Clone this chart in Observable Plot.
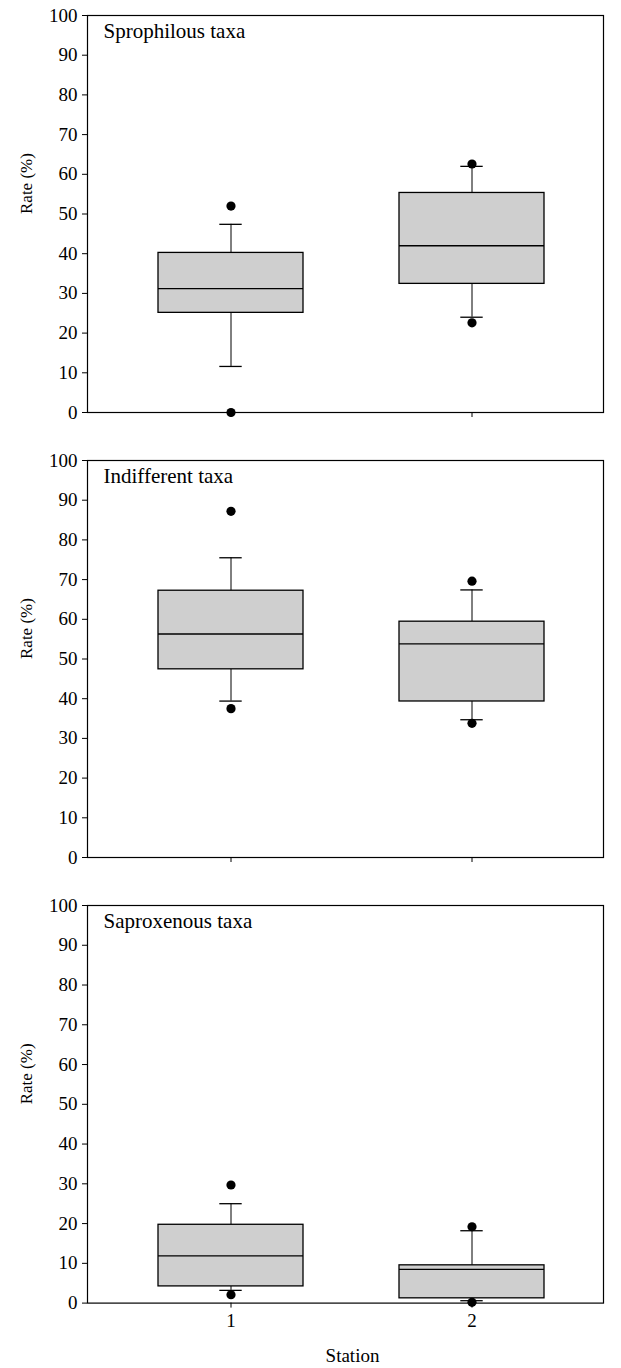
<!DOCTYPE html>
<html><head><meta charset="utf-8">
<script src="https://cdn.jsdelivr.net/npm/d3@7"></script>
<script src="https://cdn.jsdelivr.net/npm/@observablehq/plot@0.6"></script>
<style>
html,body{margin:0;padding:0;background:#fff;}
#chart svg{display:block;}
</style></head><body><div id="chart"></div>
<script>
const stations = [1, 2];
const panelTitles = ["Sprophilous taxa", "Indifferent taxa", "Saproxenous taxa"];
const yTicks = [0, 10, 20, 30, 40, 50, 60, 70, 80, 90, 100];
const boxQ1 = [[25.1, 32.4], [47.4, 39.3], [4.2, 1.2]];
const boxMedian = [[31.2, 42.0], [56.3, 53.8], [11.9, 8.5]];
const boxQ3 = [[40.2, 55.3], [67.2, 59.4], [19.7, 9.5]];
const whiskerLow = [[11.6, 24.0], [39.4, 34.7], [3.2, 0.6]];
const whiskerHigh = [[47.4, 62.0], [75.5, 67.4], [25.0, 18.2]];
const outlierLow = [[0, 22.6], [37.5, 33.8], [2.1, 0.2]];
const outlierHigh = [[52.0, 62.6], [87.2, 69.6], [29.7, 19.2]];
const yLabel = "Rate (%)";
const xLabel = "Station";

const layouts = [
  {height: 433, marginTop: 15, marginBottom: 21},
  {height: 444, marginTop: 27, marginBottom: 20},
  {height: 491, marginTop: 28, marginBottom: 65.4}
];

const root = document.getElementById("chart");
panelTitles.forEach((title, p) => {
  const rows = stations.map((s, i) => ({
    station: s,
    q1: boxQ1[p][i], med: boxMedian[p][i], q3: boxQ3[p][i],
    lo: whiskerLow[p][i], hi: whiskerHigh[p][i]
  }));
  const outliers = stations.flatMap((s, i) => [
    {station: s, v: outlierLow[p][i]},
    {station: s, v: outlierHigh[p][i]}
  ]);
  const last = p === panelTitles.length - 1;
  const L = layouts[p];
  const capInset = (144.6 - 22) / 2;
  const chart = Plot.plot({
    width: 621,
    height: L.height,
    marginTop: L.marginTop,
    marginBottom: L.marginBottom,
    marginLeft: 87,
    marginRight: 18,
    style: {fontFamily: "'Liberation Serif', serif", fontSize: "19px", color: "black", background: "white"},
    x: {type: "band", domain: stations, range: [61.3, 639.7], padding: 0.4,
        tickSize: 5, tickPadding: 5, label: null,
        tickFormat: last ? d => String(d) : () => ""},
    y: {domain: [0, 100], ticks: yTicks, tickSize: 5, tickPadding: 5, label: null},
    marks: [
      Plot.ruleX(rows, {x: "station", y1: "q3", y2: "hi", stroke: "black", strokeWidth: 1}),
      Plot.ruleX(rows, {x: "station", y1: "q1", y2: "lo", stroke: "black", strokeWidth: 1}),
      Plot.tickY(rows, {x: "station", y: "hi", stroke: "black", strokeWidth: 1.3, insetLeft: capInset, insetRight: capInset}),
      Plot.tickY(rows, {x: "station", y: "lo", stroke: "black", strokeWidth: 1.3, insetLeft: capInset, insetRight: capInset}),
      Plot.barY(rows, {x: "station", y1: "q1", y2: "q3", fill: "#cfcfcf", stroke: "black", strokeWidth: 1.3}),
      Plot.tickY(rows, {x: "station", y: "med", stroke: "black", strokeWidth: 1.3}),
      Plot.dot(outliers, {x: "station", y: "v", r: 4.6, fill: "black", stroke: "none"}),
      Plot.frame({stroke: "black", strokeWidth: 1.2}),
      Plot.text([title], {frameAnchor: "top-left", dx: 16, dy: 8, textAnchor: "start", lineAnchor: "top", fontSize: 21}),
      Plot.text([yLabel], {frameAnchor: "left", dx: -61, rotate: -90, fontSize: 17}),
      ...(last ? [Plot.text([xLabel], {frameAnchor: "bottom", dx: 7, dy: 59, fontSize: 19})] : [])
    ]
  });
  root.appendChild(chart);
});
</script>
</body></html>
